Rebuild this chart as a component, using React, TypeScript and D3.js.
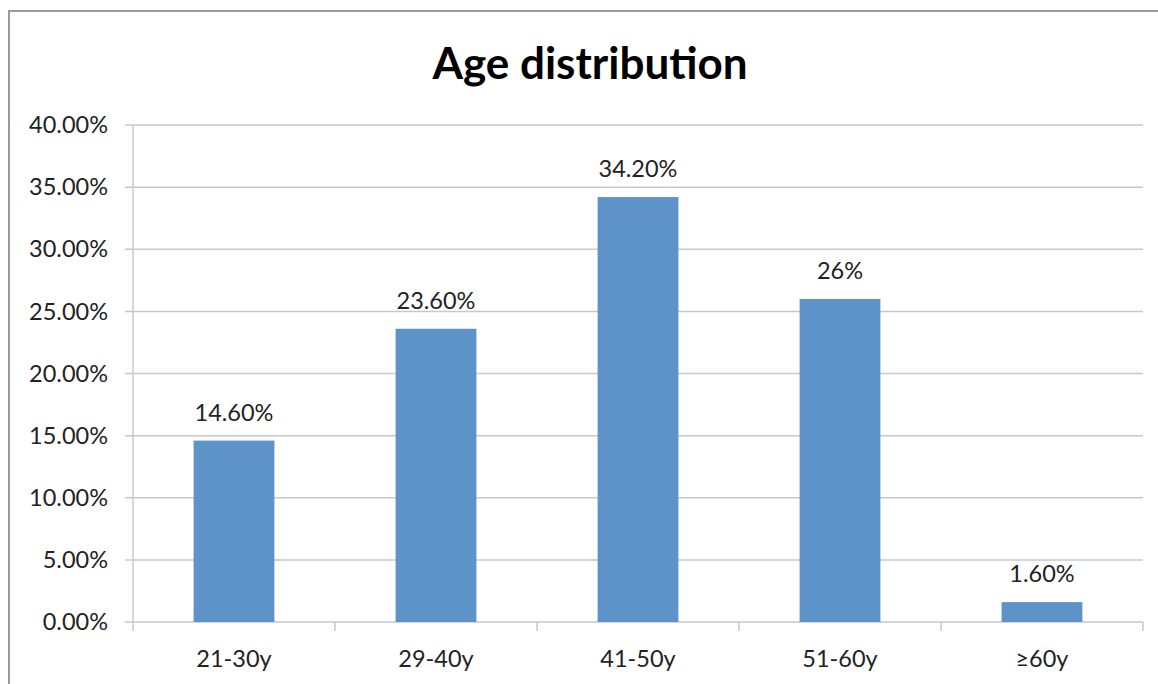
import React from 'react';
import * as d3 from 'd3';

const categories = ['21-30y', '29-40y', '41-50y', '51-60y', '≥60y'];
const values = [14.6, 23.6, 34.2, 26, 1.6];
const valueLabels = ['14.60%', '23.60%', '34.20%', '26%', '1.60%'];
const yTicks = [0, 5, 10, 15, 20, 25, 30, 35, 40];

const W = 1158;
const H = 684;
const font = 'Lato, "Open Sans", sans-serif';

export default function App() {
    const left = 133, right = 1143, top = 125, bottom = 622;

    const x = d3.scaleBand()
        .domain(categories)
        .range([left, right])
        .paddingInner(0.6)
        .paddingOuter(0.3);

    const y = d3.scaleLinear()
        .domain([0, 40])
        .range([bottom, top]);

    const bounds = d3.range(categories.length + 1).map(i => left + (right - left) * i / categories.length);

    return (
        <svg width={W} height={H} style={{ position: 'absolute', left: 0, top: 0, display: 'block', background: '#fff' }}>
            {/* chart border */}
            <path d={`M9,${H} V11 H${W}`} fill="none" stroke="#9a9a9a" strokeWidth={2} />

            <text x={590} y={79} textAnchor="middle" fontFamily={font} fontWeight="bold" fontSize={44} fill="#000">
                Age distribution
            </text>

            {/* grid */}
            {yTicks.map(t => (
                <g key={t}>
                    <line x1={left - 8} x2={right} y1={y(t)} y2={y(t)} stroke="#c8c8c8" strokeWidth={1.5} />
                    <text x={108} y={y(t)} dy="0.35em" textAnchor="end" fontFamily={font} fontSize={23.5} fill="#222">
                        {t.toFixed(2)}%
                    </text>
                </g>
            ))}

            <line x1={left} x2={left} y1={top} y2={bottom} stroke="#c8c8c8" strokeWidth={1.5} />
            {bounds.map((b, i) => (
                <line key={i} x1={b} x2={b} y1={bottom} y2={bottom + 9} stroke="#c8c8c8" strokeWidth={1.5} />
            ))}

            {categories.map((c, i) => (
                <g key={c}>
                    <rect x={x(c)} y={y(values[i])} width={x.bandwidth()} height={bottom - y(values[i])} fill="#5E93C9" />
                    <text x={x(c)! + x.bandwidth() / 2} y={y(values[i]) - 20} textAnchor="middle" fontFamily={font} fontSize={23.5} fill="#222">
                        {valueLabels[i]}
                    </text>
                    <text x={x(c)! + x.bandwidth() / 2} y={667} textAnchor="middle" fontFamily={font} fontSize={23.5} fill="#222">
                        {c}
                    </text>
                </g>
            ))}
        </svg>
    );
}
